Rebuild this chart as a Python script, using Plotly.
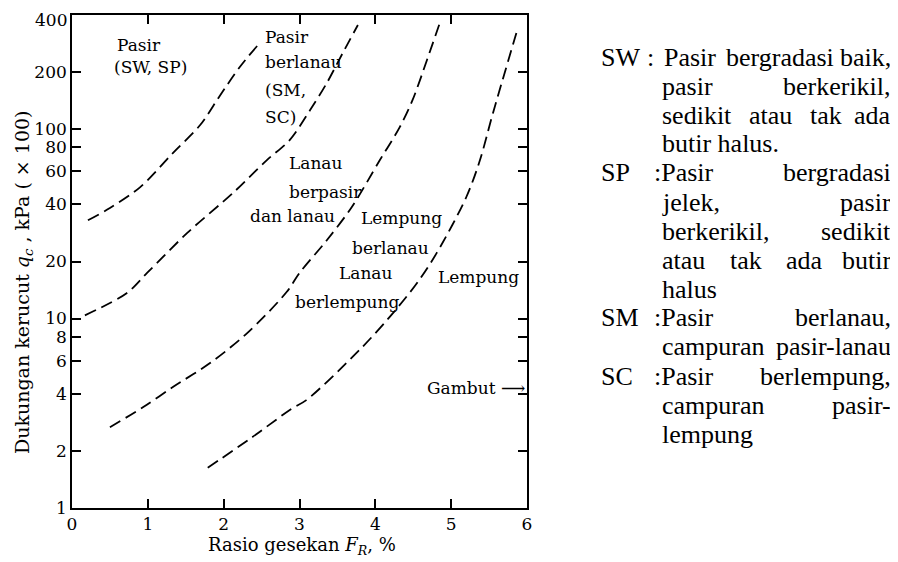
import math
import plotly.graph_objects as go

# ---------------- data ----------------
FR_1 = [0.21, 0.50, 0.90, 1.33, 1.69, 1.95, 2.21, 2.45]
QC_1 = [33, 38.3, 49.4, 74.7, 105, 150, 212, 277]

FR_2 = [0.17, 0.72, 0.99, 1.52, 2.12, 2.57, 2.87, 3.14, 3.36, 3.57, 3.77]
QC_2 = [10.4, 13.6, 17.4, 28.3, 45.9, 68.6, 87.5, 126, 175, 252, 354]

FR_3 = [0.50, 0.94, 1.33, 1.82, 2.31, 2.83, 3.00, 3.36, 3.69, 4.06, 4.32, 4.49, 4.68, 4.85]
QC_3 = [2.67, 3.41, 4.35, 5.82, 8.38, 13.8, 17.4, 25.9, 38.8, 68.6, 102, 142, 231, 363]

FR_4 = [1.79, 2.38, 2.91, 3.09, 3.79, 4.19, 4.55, 4.81, 5.20, 5.38, 5.55, 5.86]
QC_4 = [1.63, 2.37, 3.37, 3.71, 6.82, 10.2, 15.4, 22.2, 43.8, 68.6, 121, 321]

X_TICKS = [0, 1, 2, 3, 4, 5, 6]
Y_TICKS = [1, 2, 4, 6, 8, 10, 20, 40, 60, 80, 100, 200, 400]
Y_TICKTEXT = [str(v) for v in Y_TICKS]

# zone labels: (text, FR, qc)
ZONE_LABELS = [
    ("Pasir", 0.57, 277),
    ("(SW, SP)", 0.53, 212),
    ("Pasir", 2.52, 306),
    ("berlanau", 2.52, 226),
    ("(SM,", 2.52, 161),
    ("SC)", 2.52, 116),
    ("Lanau", 2.83, 66),
    ("berpasir", 2.83, 46.5),
    ("dan lanau", 2.32, 34.7),
    ("Lempung", 3.79, 33.9),
    ("berlanau", 3.66, 23.5),
    ("Lanau", 3.49, 17.4),
    ("berlempung", 2.91, 12.2),
    ("Lempung", 4.80, 16.6),
]
GAMBUT = ("Gambut ⟶", 6.0, 4.3)

# legend text on the right
LEGEND = [
    ("SW", ": Pasir bergradasi baik,", "just"),
    ("", "pasir berkerikil,", "just"),
    ("", "sedikit atau tak ada", "just"),
    ("", "butir halus.", "plain"),
    ("SP", ":Pasir bergradasi", "just"),
    ("", "jelek, pasir", "just"),
    ("", "berkerikil, sedikit", "just"),
    ("", "atau tak ada butir", "just"),
    ("", "halus", "plain"),
    ("SM", ":Pasir berlanau,", "just"),
    ("", "campuran pasir-lanau", "just"),
    ("SC", ":Pasir berlempung,", "just"),
    ("", "campuran pasir-", "just"),
    ("", "lempung", "plain"),
]

# ---------------- layout constants ----------------
PAGE_MARGIN = 8                      # default <body> margin of the html page
W_FIG, H_FIG = 898 - PAGE_MARGIN, 562 - PAGE_MARGIN
# plot area in screen pixels: x 72..527, y 15..508
ML, MT = 72 - PAGE_MARGIN, 15 - PAGE_MARGIN
PW, PH = 455, 493
MR = W_FIG - ML - PW
MB = H_FIG - MT - PH
SERIF = "Liberation Serif, Times New Roman, serif"
SCAN = "DejaVu Serif, serif"

fig = go.Figure()
for xs, ys in [(FR_1, QC_1), (FR_2, QC_2), (FR_3, QC_3), (FR_4, QC_4)]:
    fig.add_trace(go.Scatter(
        x=xs, y=ys, mode="lines",
        line=dict(color="black", width=1.8, dash="12px,6px", shape="spline", smoothing=0.9),
        showlegend=False, hoverinfo="skip"))

ann = []
for txt, fx, qy in ZONE_LABELS:
    ann.append(dict(text=txt, x=fx, y=math.log10(qy), xref="x", yref="y",
                    xanchor="left", yanchor="middle", showarrow=False,
                    font=dict(family=SCAN, size=17, color="black")))
ann.append(dict(text=GAMBUT[0], x=GAMBUT[1], y=math.log10(GAMBUT[2]), xref="x", yref="y",
                xanchor="right", yanchor="middle", showarrow=False,
                font=dict(family=SCAN, size=17, color="black")))


def px2paper(px, py):
    """screen pixel (in the 898x562 picture) -> paper coords"""
    return (px - 72) / PW, (508 - py) / PH


# top tick label (placed as text so it is not cut at the page top)
tx, ty = px2paper(69, 8)
ann.append(dict(text=Y_TICKTEXT[-1], x=tx, y=ty, xref="paper", yref="paper",
                xanchor="right", yanchor="top", showarrow=False,
                font=dict(family=SCAN, size=17, color="black")))

# axis titles
tx, ty = px2paper(302, 546)
ann.append(dict(text="Rasio gesekan <i>F</i><sub><i>R</i></sub>, %", x=tx, y=ty,
                xref="paper", yref="paper", xanchor="center", yanchor="middle",
                showarrow=False, font=dict(family=SCAN, size=18, color="black")))
tx, ty = px2paper(23, 282)
ann.append(dict(text="Dukungan kerucut <i>q<sub>c</sub></i> , kPa ( × 100)", x=tx, y=ty,
                xref="paper", yref="paper", xanchor="center", yanchor="middle",
                textangle=-90, showarrow=False,
                font=dict(family=SCAN, size=19, color="black")))

# right-hand description text (justified by hand)
WID = {' ': 250, ',': 250, '.': 250, ':': 278, '-': 333, '(': 333, ')': 333}
WID.update(dict(zip("abcdefghijklmnopqrstuvwxyz",
                    [444, 500, 444, 500, 444, 333, 500, 500, 278, 278, 500, 278, 778,
                     500, 500, 500, 500, 333, 389, 278, 500, 500, 722, 500, 500, 444])))
WID.update(dict(zip("ABCDEFGHIJKLMNOPQRSTUVWXYZ",
                    [722, 667, 667, 722, 611, 556, 722, 722, 333, 389, 722, 611, 889,
                     722, 722, 556, 722, 667, 556, 611, 722, 722, 944, 722, 722, 611])))
FS = 26


def tw(s):
    return sum(WID.get(c, 500) for c in s) * FS / 1000.0


X_CODE, X_TEXT, X_RIGHT = 599, 660, 893
Y0, DY = 57, 29
for i, (code, body, mode) in enumerate(LEGEND):
    py = Y0 + i * DY
    _, yp = px2paper(0, py)
    font = dict(family=SERIF, size=FS, color="black")
    if code:
        xp, _ = px2paper(X_CODE, py)
        ann.append(dict(text=code, x=xp, y=yp, xref="paper", yref="paper",
                        xanchor="left", yanchor="middle", showarrow=False, font=font))
    if code == "SW":
        start = X_CODE + tw("SW ")
    elif code:
        start = X_TEXT - 8
    else:
        start = X_TEXT
    if mode == "plain":
        xp, _ = px2paper(start, py)
        ann.append(dict(text=body, x=xp, y=yp, xref="paper", yref="paper",
                        xanchor="left", yanchor="middle", showarrow=False, font=font))
    else:
        words = body.split(" ")
        total = sum(tw(w) for w in words)
        gap = (X_RIGHT - start - total) / (len(words) - 1)
        cx = start
        for k, w in enumerate(words):
            last = k == len(words) - 1
            xp, _ = px2paper(X_RIGHT if last else cx, py)
            ann.append(dict(text=w, x=xp, y=yp, xref="paper", yref="paper",
                            xanchor="right" if last else "left", yanchor="middle",
                            showarrow=False, font=font))
            cx += tw(w) + gap

axis_common = dict(showline=True, linecolor="black", linewidth=1.6, mirror="ticks",
                   ticks="inside", ticklen=9, tickwidth=1.5, tickcolor="black",
                   showgrid=False, zeroline=False,
                   tickfont=dict(family=SCAN, size=17, color="black"))

fig.update_layout(
    width=W_FIG, height=H_FIG,
    margin=dict(l=ML, r=MR, t=MT, b=MB, autoexpand=False),
    paper_bgcolor="white", plot_bgcolor="white",
    xaxis=dict(range=[0, 6], tickvals=X_TICKS, **axis_common),
    yaxis=dict(type="log", range=[0, math.log10(400)], tickvals=Y_TICKS[:-1],
               ticktext=Y_TICKTEXT[:-1], **axis_common),
    annotations=ann,
    showlegend=False,
)

fig.write_html("out.html")
